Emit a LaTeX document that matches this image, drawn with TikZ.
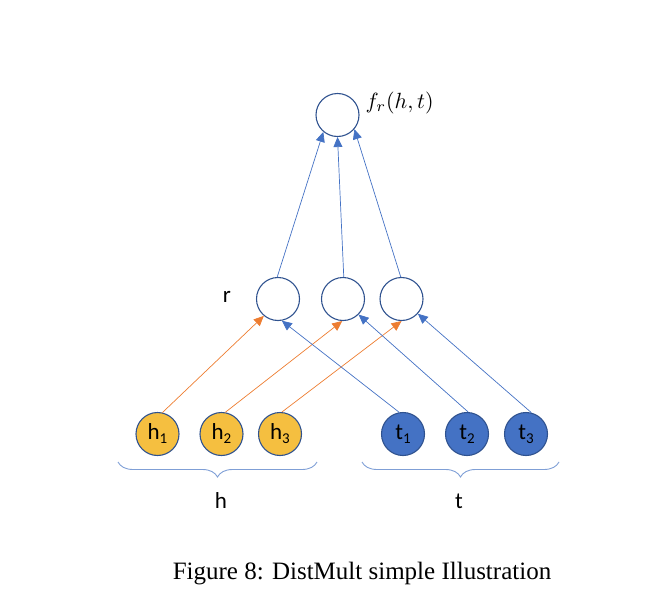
\documentclass[tikz,border=0pt]{standalone}
\usepackage{fontspec}
\setmainfont{Liberation Serif}
\newfontfamily\calibri{Carlito}
\usetikzlibrary{arrows.meta}
\usetikzlibrary{decorations.pathreplacing}

\definecolor{entgold}{HTML}{F5BF40}
\definecolor{entblue}{HTML}{4472C4}
\definecolor{rimblue}{HTML}{2F528F}
\definecolor{linkorange}{HTML}{ED7D31}
\definecolor{braceblue}{HTML}{7F9FD6}

\newcommand{\idx}[2]{#1\raisebox{-4pt}{\fontsize{15}{15}\selectfont #2}}

\tikzset{
unit/.style={circle,draw=rimblue,line width=1.1pt,minimum size=43pt,inner sep=0pt,
  font=\calibri\fontsize{23}{23}\selectfont},
hent/.style={unit,fill=entgold},
tent/.style={unit,fill=entblue},
hlink/.style={draw=linkorange,line width=0.7pt,-{Triangle[length=10pt,width=9pt]}},
tlink/.style={draw=entblue,line width=0.7pt,-{Triangle[length=10pt,width=9pt]}},
grp/.style={draw=braceblue,line width=0.9pt,decorate,decoration={brace,mirror,amplitude=15pt}},
lbl/.style={font=\calibri\fontsize{23}{23}\selectfont}
}

\begin{document}
\begin{tikzpicture}[x=1pt,y=-1pt]
\useasboundingbox (0,0) rectangle (656,610);

\node[unit] (f) at (337.5,115) {};
\node[anchor=west] (flbl) at (362,103) {\scalebox{2.2}{$f_r(h,t)$}};

\node[unit] (r1) at (278,299) {};
\node[unit] (r2) at (343,299) {};
\node[unit] (r3) at (401.5,299) {};
\node[lbl] (rlbl) at (227,297) {r};

\node[hent] (h1) at (157.5,434) {\idx{h}{1}};
\node[hent] (h2) at (221.5,434) {\idx{h}{2}};
\node[hent] (h3) at (280,434) {\idx{h}{3}};
\node[tent] (t1) at (403,434) {\idx{t}{1}};
\node[tent] (t2) at (467,434) {\idx{t}{2}};
\node[tent] (t3) at (526,434) {\idx{t}{3}};

\draw[hlink] (h1.77) -- (r1.230);
\draw[hlink] (h2.80) -- (r2.268);
\draw[hlink] (h3.85) -- (r3.270);
\draw[tlink] (t1.100) -- (r1.280);
\draw[tlink] (t2.87) -- (r2.315);
\draw[tlink] (t3.76) -- (r3.318);

\draw[tlink] (r1.92) -- (f.230);
\draw[tlink] (r2.88) -- (f.270);
\draw[tlink] (r3.92) -- (f.320);

\draw[grp] (118,462) -- (317,462);
\draw[grp] (362,462) -- (559,462);
\node[lbl] (hlbl) at (221,501) {h};
\node[lbl] (tlbl) at (459,501) {t};

\node (caption) at (362,574) {\fontsize{25}{30}\selectfont Figure 8: DistMult simple Illustration};
\end{tikzpicture}
\end{document}
